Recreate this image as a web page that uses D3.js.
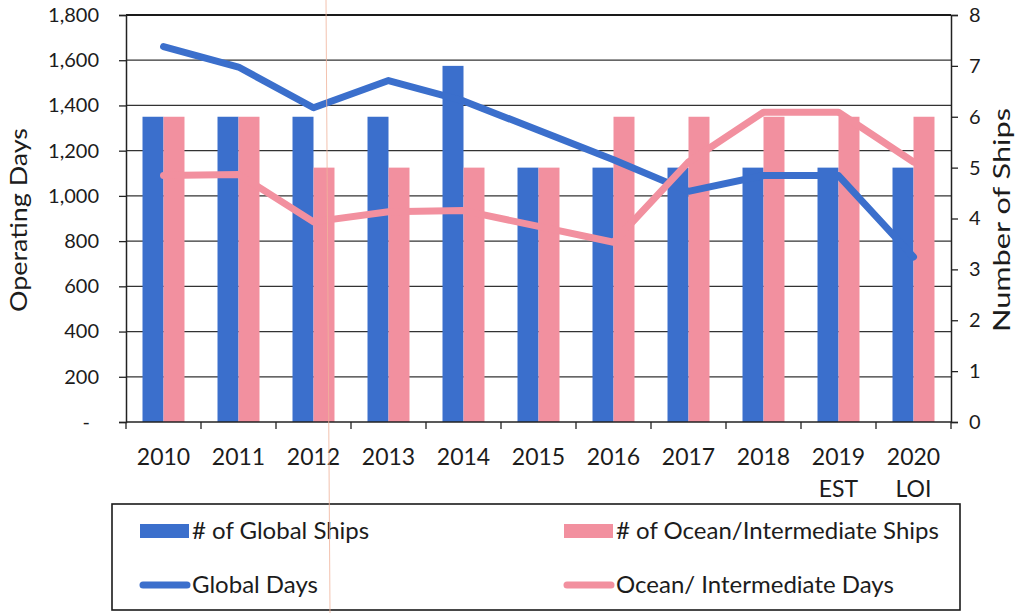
<!DOCTYPE html>
<html>
<head>
<meta charset="utf-8">
<script src="https://cdn.jsdelivr.net/npm/d3@7"></script>
<style>
  html, body { margin: 0; padding: 0; background: #fff; }
  svg { display: block; }
  text { font-family: Lato, "Open Sans", sans-serif; fill: #1c1c1c; }
</style>
</head>
<body>
<svg id="chart" width="1023" height="613"></svg>
<script>
// Fleet operating days and ship counts, 2010–2020
const years = ["2010", "2011", "2012", "2013", "2014", "2015", "2016", "2017", "2018", "2019", "2020"];
const yearNotes = ["", "", "", "", "", "", "", "", "", "EST", "LOI"];
const globalShips = [6, 6, 6, 6, 7, 5, 5, 5, 5, 5, 5];
const oceanShips = [6, 6, 5, 5, 5, 5, 6, 6, 6, 6, 6];
const globalDays = [1660, 1570, 1390, 1510, 1420, 1290, 1160, 1020, 1090, 1090, 730];
const oceanDays = [1090, 1095, 885, 930, 935, 865, 795, 1150, 1370, 1370, 1150];
const dayTicks = [0, 200, 400, 600, 800, 1000, 1200, 1400, 1600, 1800];
const shipTicks = [0, 1, 2, 3, 4, 5, 6, 7, 8];
const legendLabels = ["# of Global Ships", "# of Ocean/Intermediate Ships", "Global Days", "Ocean/ Intermediate Days"];

const BLUE = "#3b6fcc";
const PINK = "#f2909f";

const svg = d3.select("#chart");
const plot = { left: 126, right: 951, top: 15, bottom: 422 };

const x = d3.scaleBand().domain(years).range([plot.left, plot.right]).paddingInner(0).paddingOuter(0);
const xSub = d3.scaleBand().domain(["global", "ocean"]).range([0, x.bandwidth()]).paddingInner(0).paddingOuter(0.786);
const yDays = d3.scaleLinear().domain([0, 1800]).range([plot.bottom, plot.top]);
const yShips = d3.scaleLinear().domain([0, 8]).range([plot.bottom, plot.top]);

// horizontal gridlines from the days axis
svg.append("g")
  .selectAll("line")
  .data(dayTicks.filter(d => d > 0))
  .join("line")
  .attr("x1", plot.left).attr("x2", plot.right)
  .attr("y1", d => yDays(d)).attr("y2", d => yDays(d))
  .attr("stroke", d => d === 1800 ? "#1a1a1a" : "#333")
  .attr("stroke-width", d => d === 1800 ? 2 : 1.3);

// bars: ship counts on the right-hand scale
const rows = years.map((yr, i) => ({ yr, g: globalShips[i], o: oceanShips[i] }));
const barGroups = svg.append("g").selectAll("g").data(rows).join("g")
  .attr("transform", d => `translate(${x(d.yr)},0)`);
barGroups.append("rect")
  .attr("x", xSub("global")).attr("width", xSub.bandwidth())
  .attr("y", d => yShips(d.g)).attr("height", d => yShips(0) - yShips(d.g))
  .attr("fill", BLUE);
barGroups.append("rect")
  .attr("x", xSub("ocean")).attr("width", xSub.bandwidth())
  .attr("y", d => yShips(d.o)).attr("height", d => yShips(0) - yShips(d.o))
  .attr("fill", PINK);

// day lines on the left-hand scale
const cx = yr => x(yr) + x.bandwidth() / 2;
const dayLine = vals => d3.line().x((d, i) => cx(years[i])).y(d => yDays(d))(vals);
svg.append("path").attr("d", dayLine(globalDays))
  .attr("fill", "none").attr("stroke", BLUE).attr("stroke-width", 7)
  .attr("stroke-linejoin", "round").attr("stroke-linecap", "round");
svg.append("path").attr("d", dayLine(oceanDays))
  .attr("fill", "none").attr("stroke", PINK).attr("stroke-width", 7)
  .attr("stroke-linejoin", "round").attr("stroke-linecap", "round");

// left axis (days)
const leftAxis = svg.append("g")
  .attr("transform", `translate(${plot.left},0)`)
  .call(d3.axisLeft(yDays).tickValues(dayTicks).tickSize(7).tickPadding(20)
    .tickFormat(d => d === 0 ? "-" : d3.format(",")(d)));
leftAxis.select(".domain").attr("stroke", "#222").attr("stroke-width", 1.5);
leftAxis.selectAll(".tick line").attr("stroke", "#222").attr("stroke-width", 1.3);
leftAxis.selectAll(".tick text")
  .style("font-family", "Lato, sans-serif").style("font-size", "20px").attr("fill", "#1c1c1c")
  .attr("dx", d => d === 0 ? -9 : 0);

// right axis (ships)
const rightAxis = svg.append("g")
  .attr("transform", `translate(${plot.right},0)`)
  .call(d3.axisRight(yShips).tickValues(shipTicks).tickSize(7).tickPadding(11).tickFormat(d3.format("d")));
rightAxis.select(".domain").attr("stroke", "#222").attr("stroke-width", 1.5);
rightAxis.selectAll(".tick line").attr("stroke", "#222").attr("stroke-width", 1.3);
rightAxis.selectAll(".tick text")
  .style("font-family", "Lato, sans-serif").style("font-size", "20px").attr("fill", "#1c1c1c");

// bottom axis with ticks at category boundaries
svg.append("line")
  .attr("x1", plot.left).attr("x2", plot.right)
  .attr("y1", plot.bottom).attr("y2", plot.bottom)
  .attr("stroke", "#222").attr("stroke-width", 1.5);
svg.append("g").selectAll("line")
  .data(years.concat(["end"]))
  .join("line")
  .attr("x1", (d, i) => i < years.length ? x(d) : plot.right)
  .attr("x2", (d, i) => i < years.length ? x(d) : plot.right)
  .attr("y1", plot.bottom).attr("y2", plot.bottom + 7)
  .attr("stroke", "#222").attr("stroke-width", 1.3);

svg.append("g").selectAll("text").data(years).join("text")
  .attr("x", d => cx(d)).attr("y", 465)
  .attr("text-anchor", "middle").style("font-size", "23px")
  .text(d => d);
svg.append("g").selectAll("text").data(years.filter((d, i) => yearNotes[i]))
  .join("text")
  .attr("x", d => cx(d)).attr("y", 497)
  .attr("text-anchor", "middle").style("font-size", "23px")
  .text(d => yearNotes[years.indexOf(d)]);

// axis titles
svg.append("text")
  .attr("transform", "translate(27,220) rotate(-90)")
  .attr("text-anchor", "middle").style("font-size", "23px")
  .attr("textLength", 184).attr("lengthAdjust", "spacingAndGlyphs")
  .text("Operating Days");
svg.append("text")
  .attr("transform", "translate(1010,220) rotate(-90)")
  .attr("text-anchor", "middle").style("font-size", "24px")
  .attr("textLength", 224).attr("lengthAdjust", "spacingAndGlyphs")
  .text("Number of Ships");

// legend
const legend = svg.append("g");
legend.append("rect")
  .attr("x", 112).attr("y", 504).attr("width", 848).attr("height", 106)
  .attr("fill", "none").attr("stroke", "#1a1a1a").attr("stroke-width", 1.6);
const legendItems = [
  { label: legendLabels[0], kind: "bar", color: BLUE, x: 140, y: 531 },
  { label: legendLabels[1], kind: "bar", color: PINK, x: 564, y: 531 },
  { label: legendLabels[2], kind: "line", color: BLUE, x: 140, y: 585 },
  { label: legendLabels[3], kind: "line", color: PINK, x: 564, y: 585 }
];
legendItems.forEach(it => {
  if (it.kind === "bar") {
    legend.append("rect").attr("x", it.x).attr("y", it.y - 7).attr("width", 49).attr("height", 14).attr("fill", it.color);
  } else {
    legend.append("line").attr("x1", it.x + 3).attr("x2", it.x + 47).attr("y1", it.y).attr("y2", it.y)
      .attr("stroke", it.color).attr("stroke-width", 7).attr("stroke-linecap", "round");
  }
  legend.append("text").attr("x", it.x + 52).attr("y", it.y + 8)
    .style("font-size", "24px").text(it.label);
});

// faint fold mark on the printed sheet
svg.append("line")
  .attr("x1", 326).attr("y1", 0).attr("x2", 330).attr("y2", 613)
  .attr("stroke", "#f1b49c").attr("stroke-width", 1).attr("opacity", 0.8);
</script>
</body>
</html>
